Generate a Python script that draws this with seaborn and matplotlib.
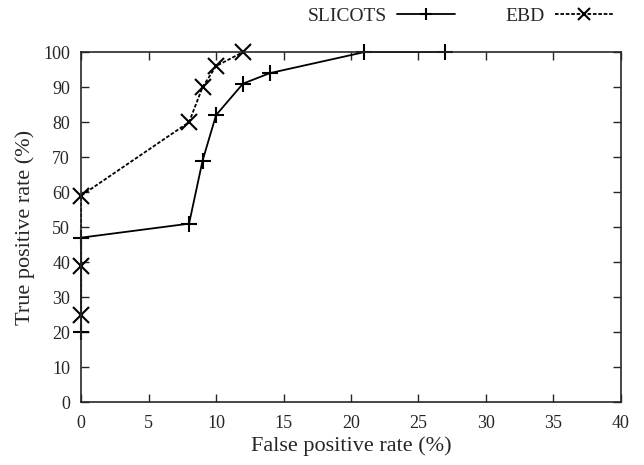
import pandas as pd
import seaborn as sns
import matplotlib.pyplot as plt

slicots_fpr = [0, 0, 8, 9, 10, 12, 14, 21, 27]
slicots_tpr = [20, 47, 51, 69, 82, 91, 94, 100, 100]
ebd_fpr = [0, 0, 0, 8, 9, 10, 12]
ebd_tpr = [25, 39, 59, 80, 90, 96, 100]

df = pd.concat([
    pd.DataFrame({"fpr": slicots_fpr, "tpr": slicots_tpr, "method": "SLICOTS"}),
    pd.DataFrame({"fpr": ebd_fpr, "tpr": ebd_tpr, "method": "EBD"}),
])

sns.set_style("ticks")
plt.rcParams["font.family"] = ["Liberation Serif", "DejaVu Serif"]
plt.rcParams["xtick.direction"] = "in"
plt.rcParams["ytick.direction"] = "in"

fig = plt.figure(figsize=(6.44, 4.65), dpi=100)
ax = fig.add_axes([0.126, 0.135, 0.838, 0.753])

ax = sns.lineplot(data=df, x="fpr", y="tpr", hue="method", style="method",
                  hue_order=["SLICOTS", "EBD"], style_order=["SLICOTS", "EBD"],
                  palette=["black", "black"],
                  markers={"SLICOTS": "+", "EBD": "x"},
                  dashes={"SLICOTS": "", "EBD": (2, 1)},
                  markersize=11, markeredgewidth=1.5, markeredgecolor="black",
                  linewidth=1.3, clip_on=False,
                  estimator=None, sort=False, ax=ax)

ax.set_xlim(0, 40)
ax.set_ylim(0, 100)
ax.set_xticks(range(0, 41, 5))
ax.set_yticks(range(0, 101, 10))
ax.tick_params(axis="x", pad=9)
ax.tick_params(top=True, right=True, labelsize=13, length=6, width=1)
ax.tick_params(axis="y", pad=8)
for s in ax.spines.values():
    s.set_linewidth(1.2)
ax.set_xlabel("False positive rate (%)", fontsize=16, labelpad=3)
ax.set_ylabel("True positive rate (%)", fontsize=16, labelpad=6)

leg = ax.legend(loc="lower right", bbox_to_anchor=(1.0, 1.055), ncol=2, frameon=False,
                markerfirst=False, fontsize=14, handlelength=3.0, columnspacing=2.6,
                borderaxespad=0, handletextpad=0.5)
for h in leg.legend_handles:
    h.set_markersize(9)

plt.savefig("out.png", dpi=100)
